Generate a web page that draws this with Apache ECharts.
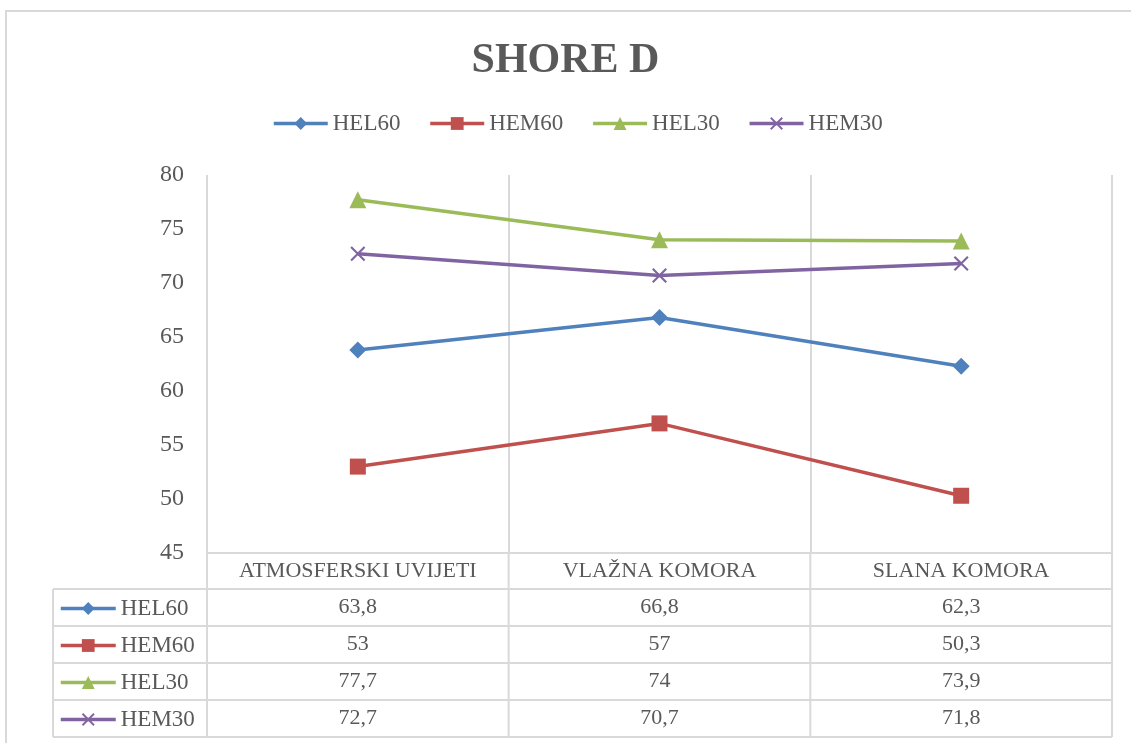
<!DOCTYPE html>
<html>
<head>
<meta charset="utf-8">
<script src="https://cdn.jsdelivr.net/npm/echarts@6/dist/echarts.min.js"></script>
<style>
  html, body { margin: 0; padding: 0; background: #fff; }
  #shore { width: 1131px; height: 743px; }
</style>
</head>
<body>
<div id="shore"></div>
<script>
// podaci (data)
const categories = ['ATMOSFERSKI UVIJETI', 'VLAŽNA KOMORA', 'SLANA KOMORA'];
const seriesNames = ['HEL60', 'HEM60', 'HEL30', 'HEM30'];
const hel60 = [63.8, 66.8, 62.3];
const hem60 = [53, 57, 50.3];
const hel30 = [77.7, 74, 73.9];
const hem30 = [72.7, 70.7, 71.8];
const yTicks = [45, 50, 55, 60, 65, 70, 75, 80];

const values = [hel60, hem60, hel30, hem30];
const colors = ['#4F81BD', '#C0504D', '#9BBB59', '#8064A2'];
const symbols = ['diamond', 'rect', 'triangle',
  'path://M0,1L1,0L10,9L9,10Z M9,0L10,1L1,10L0,9Z'];
const symbolSizes = [17, 16, 17, 15];

const FONT = 'Liberation Serif';
const TXT = '#595959';
const GRIDC = '#d9d9d9';

// plot area
const gLeft = 207, gRight = 1112, gTop = 175, gBottom = 553;
// table rows
const rowTop = 589, rowH = 37, tableLeft = 53;

let chart = echarts.init(document.getElementById('shore'));

const colW = (gRight - gLeft) / categories.length;
let graphics = [];
// outer border
graphics.push({
  type: 'rect', shape: { x: 6, y: 11, width: 1200, height: 800 },
  style: { fill: 'none', stroke: GRIDC, lineWidth: 2 }, silent: true
});
// horizontal table lines
for (let i = 0; i <= seriesNames.length; i++) {
  let y = rowTop + i * rowH;
  graphics.push({
    type: 'line', shape: { x1: tableLeft, y1: y, x2: gRight, y2: y },
    style: { stroke: GRIDC, lineWidth: 2 }, silent: true
  });
}
// vertical table lines
graphics.push({
  type: 'line', shape: { x1: tableLeft, y1: rowTop, x2: tableLeft, y2: rowTop + rowH * seriesNames.length },
  style: { stroke: GRIDC, lineWidth: 2 }, silent: true
});
for (let c = 0; c <= categories.length; c++) {
  let x = gLeft + c * colW;
  graphics.push({
    type: 'line', shape: { x1: x, y1: gBottom, x2: x, y2: rowTop + rowH * seriesNames.length },
    style: { stroke: GRIDC, lineWidth: 2 }, silent: true
  });
}
// table values
values.forEach(function (arr, r) {
  arr.forEach(function (v, c) {
    graphics.push({
      type: 'text',
      x: gLeft + (c + 0.5) * colW,
      y: rowTop + (r + 0.5) * rowH,
      style: {
        text: String(v).replace('.', ','),
        fill: TXT, font: '22px "' + FONT + '"',
        align: 'center', verticalAlign: 'middle'
      },
      silent: true
    });
  });
});

let option = {
  animation: false,
  backgroundColor: '#fff',
  color: colors,
  title: {
    text: 'SHORE D',
    left: 'center',
    top: 35,
    textStyle: { fontFamily: FONT, fontSize: 42, fontWeight: 'bold', color: TXT }
  },
  legend: [
    {
      data: seriesNames,
      top: 112,
      left: 272,
      padding: 0,
      itemWidth: 54,
      itemHeight: 16,
      itemGap: 28,
      lineStyle: { width: 3.5 },
      textStyle: { fontFamily: FONT, fontSize: 23, color: TXT }
    },
    {
      // legend keys in the data table
      data: seriesNames,
      orient: 'vertical',
      left: 59,
      top: rowTop + 8,
      padding: 0,
      itemWidth: 55,
      itemHeight: 16,
      itemGap: 14,
      lineStyle: { width: 3.5 },
      textStyle: { fontFamily: FONT, fontSize: 23, color: TXT, lineHeight: 23 }
    }
  ],
  grid: {
    left: gLeft,
    right: 1131 - gRight,
    top: gTop,
    bottom: 743 - gBottom,
    containLabel: false
  },
  xAxis: {
    type: 'category',
    data: categories,
    boundaryGap: true,
    axisLine: { show: true, lineStyle: { color: GRIDC, width: 2 } },
    axisTick: { show: false },
    splitLine: { show: true, lineStyle: { color: GRIDC, width: 2 } },
    axisLabel: { fontFamily: FONT, fontSize: 22, color: TXT, margin: 7, interval: 0 }
  },
  yAxis: {
    type: 'value',
    min: yTicks[0],
    max: yTicks[yTicks.length - 1],
    interval: 5,
    axisLine: { show: false },
    axisTick: { show: false },
    splitLine: { show: false },
    axisLabel: { fontFamily: FONT, fontSize: 24, color: TXT, margin: 23 }
  },
  series: seriesNames.map(function (name, i) {
    return {
      name: name,
      type: 'line',
      data: values[i],
      symbol: symbols[i],
      symbolSize: symbolSizes[i],
      showAllSymbol: true,
      lineStyle: { width: 3.5, color: colors[i] },
      itemStyle: { color: colors[i] }
    };
  }),
  graphic: graphics
};
chart.setOption(option);
</script>
</body>
</html>
